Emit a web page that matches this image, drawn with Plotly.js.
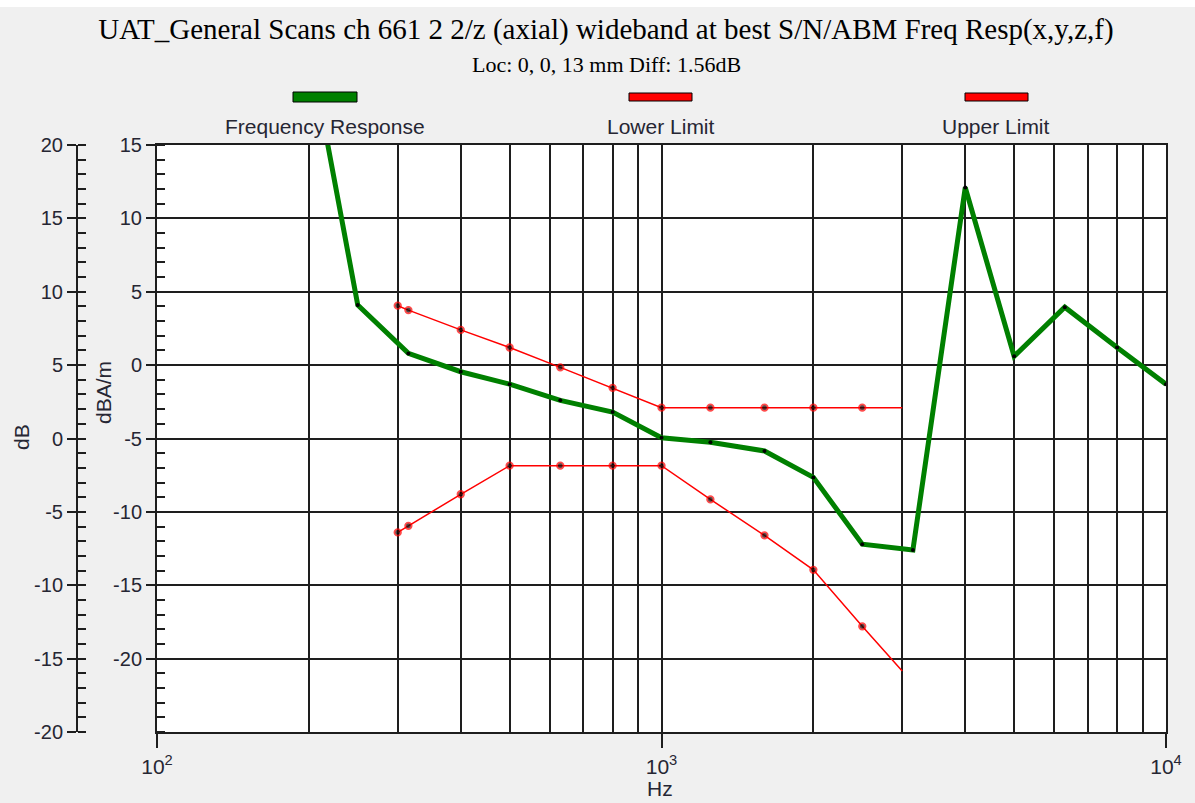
<!DOCTYPE html>
<html>
<head>
<meta charset="utf-8">
<script src="https://cdn.plot.ly/plotly-3.0.1.min.js"></script>
<style>
  html, body { margin: 0; padding: 0; background: #f0f0f0; }
  #chart { width: 1195px; height: 803px; }
</style>
</head>
<body>
<div id="chart"></div>
<script>
// ---------- data ----------
const responseHz = [200, 250, 315, 400, 500, 630, 800, 1000, 1250, 1600, 2000, 2500, 3150, 4000, 5000, 6300, 8000, 10000];
const responseDb = [26.9, 9.1, 5.8, 4.55, 3.7, 2.6, 1.8, 0.05, -0.25, -0.85, -2.65, -7.2, -7.6, 17.1, 5.6, 8.95, 6.2, 3.7];

const limitHz = [300, 315, 400, 500, 630, 800, 1000, 1250, 1600, 2000, 2500, 3000];
const lowerDb = [-6.4, -5.95, -3.8, -1.85, -1.85, -1.85, -1.85, -4.15, -6.6, -8.95, -12.8, -15.85];
const upperDb = [9.05, 8.75, 7.4, 6.2, 4.85, 3.45, 2.1, 2.1, 2.1, 2.1, 2.1, 2.1];

const xTickVals = [100, 1000, 10000];
const xTickText = ['10<sup>2</sup>', '10<sup>3</sup>', '10<sup>4</sup>'];
const xMinorVals = [200, 300, 400, 500, 600, 700, 800, 900, 2000, 3000, 4000, 5000, 6000, 7000, 8000, 9000];
const yDbTicks = [-20, -15, -10, -5, 0, 5, 10, 15, 20];
const yDbaTicks = [-20, -15, -10, -5, 0, 5, 10, 15];

const titleText = 'UAT_General Scans ch 661 2 2/z (axial) wideband at best S/N/ABM Freq Resp(x,y,z,f)';
const subtitleText = 'Loc: 0, 0, 13 mm Diff: 1.56dB';
const legendNames = ['Frequency Response', 'Lower Limit', 'Upper Limit'];
const xTitle = 'Hz';

// ---------- geometry helpers ----------
const W = 1195, H = 803;
const M = { l: 60, r: 29, t: 145, b: 71 };
const PW = W - M.l - M.r, PH = H - M.t - M.b;
const px = x => (x - M.l) / PW;          // pixel x -> paper x
const py = y => (H - M.b - y) / PH;      // pixel y -> paper y

const GRID = '#1e1e1e';
const TXT = '#262633';
const GREEN = '#008000';
const RED = '#ff0000';
const SANS = 'Liberation Sans, Arial, sans-serif';
const SERIF = 'Liberation Serif, Times New Roman, serif';

const lastIdx = limitHz.length - 1;
const limitMarkerSizes = limitHz.map((_, i) => i === lastIdx ? 0 : 6.5);

const traces = [
  {
    x: responseHz, y: responseDb, type: 'scatter', mode: 'lines+markers',
    name: legendNames[0], xaxis: 'x', yaxis: 'y',
    line: { color: GREEN, width: 5 },
    marker: { color: '#000', size: 4 },
    showlegend: false
  },
  {
    x: limitHz, y: lowerDb, type: 'scatter', mode: 'lines+markers',
    name: legendNames[1], xaxis: 'x', yaxis: 'y',
    line: { color: RED, width: 1.5 },
    marker: { color: '#000', size: limitMarkerSizes, line: { color: RED, width: 1.8 } },
    showlegend: false
  },
  {
    x: limitHz, y: upperDb, type: 'scatter', mode: 'lines+markers',
    name: legendNames[2], xaxis: 'x', yaxis: 'y',
    line: { color: RED, width: 1.5 },
    marker: { color: '#000', size: limitMarkerSizes, line: { color: RED, width: 1.8 } },
    showlegend: false
  },
  { // carrier for the dBA/m axis (invisible)
    x: limitHz, y: upperDb, type: 'scatter', mode: 'lines',
    xaxis: 'x', yaxis: 'y2', opacity: 0, hoverinfo: 'skip', showlegend: false,
    line: { width: 0 }
  }
];

// legend drawn manually: sample bar above its label
const legendSamples = [
  { x0: 293, x1: 357, y0: 92, y1: 102, color: GREEN },
  { x0: 629, x1: 692, y0: 93, y1: 101, color: RED },
  { x0: 965, x1: 1028, y0: 93, y1: 101, color: RED }
];
const legendLabelX = [325, 661, 996];

const shapes = legendSamples.map(s => ({
  type: 'rect', xref: 'paper', yref: 'paper',
  x0: px(s.x0), x1: px(s.x1), y0: py(s.y1), y1: py(s.y0),
  fillcolor: s.color, line: { color: '#000', width: 1 }
}));
shapes.push({
  type: 'rect', xref: 'paper', yref: 'paper', layer: 'below',
  x0: px(0), x1: px(W), y0: py(7), y1: py(0),
  fillcolor: '#ffffff', line: { width: 0 }
});

const annotations = [
  { text: subtitleText, xref: 'paper', yref: 'paper', x: px(606), y: py(64),
    xanchor: 'center', yanchor: 'middle',
    showarrow: false, font: { family: SERIF, size: 22, color: '#000' } },
  { text: 'dB', xref: 'paper', yref: 'paper', x: px(21), y: py(437), textangle: -90,
    xanchor: 'center', yanchor: 'middle',
    showarrow: false, font: { family: SANS, size: 21, color: TXT } },
  { text: 'dBA/m', xref: 'paper', yref: 'paper', x: px(103), y: py(393), textangle: -90,
    xanchor: 'center', yanchor: 'middle',
    showarrow: false, font: { family: SANS, size: 21, color: TXT } },
  { text: xTitle, xref: 'paper', yref: 'paper', x: px(660), y: py(788),
    xanchor: 'center', yanchor: 'middle',
    showarrow: false, font: { family: SANS, size: 21, color: TXT } }
].concat(legendNames.map((n, i) => ({
  text: n, xref: 'paper', yref: 'paper', x: px(legendLabelX[i]), y: py(127),
  xanchor: 'center', yanchor: 'middle',
  showarrow: false, font: { family: SANS, size: 21, color: TXT }
})));

const layout = {
  width: W, height: H,
  margin: M,
  paper_bgcolor: '#f0f0f0',
  plot_bgcolor: '#ffffff',
  showlegend: false,
  title: {
    text: titleText, xref: 'paper', x: px(606), xanchor: 'center',
    yref: 'container', y: 1 - 29 / H, yanchor: 'middle',
    font: { family: SERIF, size: 29, color: '#000' }
  },
  xaxis: {
    type: 'log', range: [2, 4], domain: [px(157), 1],
    tickmode: 'array', tickvals: xTickVals, ticktext: xTickText,
    ticks: 'outside', ticklen: 14, tickwidth: 2, tickcolor: GRID,
    ticklabelstandoff: 1,
    showgrid: true, gridcolor: GRID, gridwidth: 2,
    minor: { tickmode: 'array', tickvals: xMinorVals, showgrid: true, gridcolor: GRID, gridwidth: 2, ticks: '' },
    showline: true, linecolor: GRID, linewidth: 2, mirror: true,
    zeroline: false,
    tickfont: { family: SANS, size: 21, color: TXT }
  },
  yaxis: {
    range: [-20, 20], anchor: 'free', position: px(77), side: 'left',
    tickmode: 'array', tickvals: yDbTicks, ticktext: yDbTicks.map(String),
    ticks: 'outside', ticklen: 9, tickwidth: 2, tickcolor: GRID,
    minor: { dtick: 1, ticks: 'inside', ticklen: 8, tickwidth: 2, tickcolor: GRID, showgrid: false },
    showline: true, linecolor: GRID, linewidth: 2,
    showgrid: false, zeroline: false,
    tickfont: { family: SANS, size: 20, color: TXT }
  },
  yaxis2: {
    range: [-25, 15], overlaying: 'y', anchor: 'x', side: 'left',
    tickmode: 'array', tickvals: yDbaTicks, ticktext: yDbaTicks.map(String),
    ticks: 'outside', ticklen: 9, tickwidth: 2, tickcolor: GRID,
    minor: { dtick: 1, ticks: 'inside', ticklen: 8, tickwidth: 2, tickcolor: GRID, showgrid: false },
    showline: true, linecolor: GRID, linewidth: 2, mirror: true,
    showgrid: true, gridcolor: GRID, gridwidth: 2, zeroline: false,
    tickfont: { family: SANS, size: 20, color: TXT }
  },
  shapes: shapes,
  annotations: annotations
};

Plotly.newPlot('chart', traces, layout, { displayModeBar: false, staticPlot: true });
</script>
</body>
</html>
